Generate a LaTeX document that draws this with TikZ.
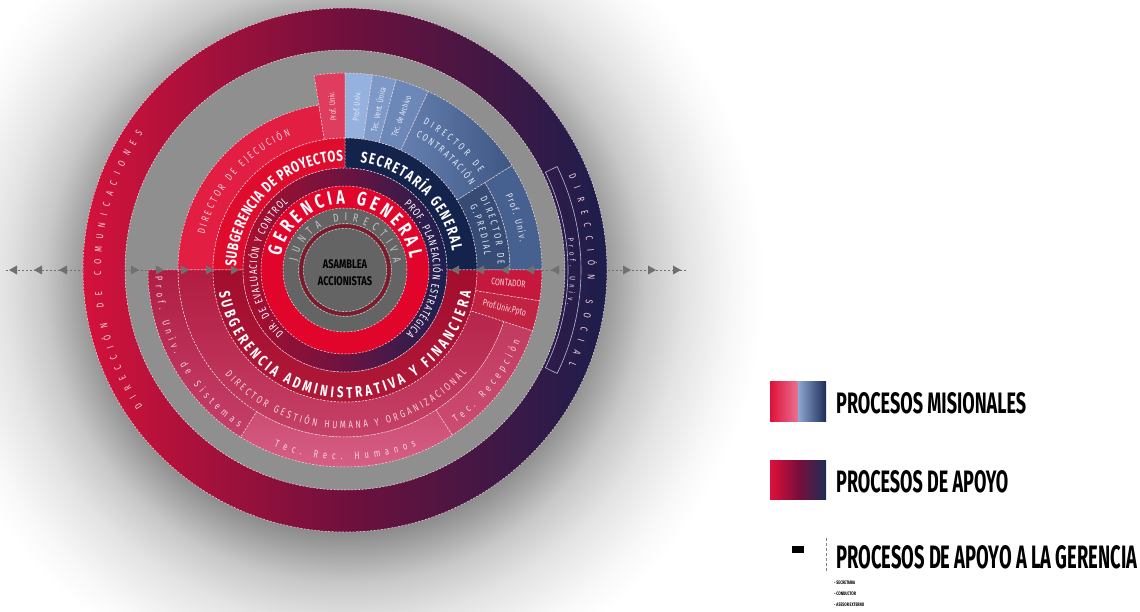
\documentclass[tikz,border=0pt]{standalone}
\usepackage{graphicx}
\usepackage{fontspec}
\setmainfont{Fira Sans}
\newfontfamily\cf[FakeStretch=0.74]{Fira Sans}
\newfontfamily\lgf[FakeStretch=0.7]{Fira Sans}
\usetikzlibrary{decorations.text}

\definecolor{glowA}{HTML}{8C8C8C}
\definecolor{glowB}{HTML}{A4A4A4}
\definecolor{glowC}{HTML}{C8C8C8}
\definecolor{glowD}{HTML}{E3E3E3}
\definecolor{glowE}{HTML}{F8F8F8}
\definecolor{ocL}{HTML}{D4123B}
\definecolor{ocM}{HTML}{70103C}
\definecolor{ocR}{HTML}{1C1E4C}
\definecolor{grayring}{HTML}{8F8F8F}
\definecolor{cgray}{HTML}{646464}
\definecolor{dkred}{HTML}{7E1A2A}
\definecolor{gerRed}{HTML}{E2052B}
\definecolor{r2L}{HTML}{AC0E2E}
\definecolor{r2M}{HTML}{6C1340}
\definecolor{r2R}{HTML}{1B2050}
\definecolor{subProy}{HTML}{E00C2E}
\definecolor{secGen}{HTML}{14234C}
\definecolor{subAdmT}{HTML}{A30E2E}
\definecolor{subAdmB}{HTML}{B01838}
\definecolor{dirEj}{HTML}{E21E42}
\definecolor{profRed}{HTML}{DE3D5E}
\definecolor{bPU}{HTML}{95B1DD}
\definecolor{bTV}{HTML}{7D99C8}
\definecolor{bTA}{HTML}{6C88B8}
\definecolor{bDCL}{HTML}{6580B0}
\definecolor{bDCR}{HTML}{3E5683}
\definecolor{bGP}{HTML}{364C75}
\definecolor{bPO}{HTML}{46618F}
\definecolor{conta}{HTML}{C5183C}
\definecolor{ppto}{HTML}{C22343}
\definecolor{dgT}{HTML}{B21C42}
\definecolor{dgB}{HTML}{C8466C}
\definecolor{trT}{HTML}{C23A60}
\definecolor{trB}{HTML}{CC4C72}
\definecolor{rhT}{HTML}{CC4C72}
\definecolor{rhB}{HTML}{D8628A}
\definecolor{psT}{HTML}{B01E44}
\definecolor{psB}{HTML}{C4406A}
\definecolor{juntaTxt}{HTML}{C4C4C4}
\definecolor{pinkTxt}{HTML}{F6D3DB}
\definecolor{blueTxt}{HTML}{E4EBF7}
\definecolor{dashc}{HTML}{F4DDE3}
\definecolor{triC}{HTML}{707070}
\definecolor{lgRed}{HTML}{E0103A}
\definecolor{lgPink}{HTML}{E8728F}
\definecolor{lgLB}{HTML}{8DA8D2}
\definecolor{lgNavy}{HTML}{1F2C55}
\definecolor{lgMar}{HTML}{7A0E3A}
\definecolor{boxc}{HTML}{B8BCD8}

% 25bp corresponds to the radius of the shaded circle
\pgfdeclareradialshading{glow}{\pgfpoint{0bp}{0bp}}{color(0bp)=(glowA); color(14.88bp)=(glowA); color(16.07bp)=(glowB); color(17.86bp)=(glowC); color(20.24bp)=(glowD); color(23.21bp)=(glowE); color(25bp)=(white); color(50bp)=(white)}

\newcommand\ringsec[4]{(#3:#1) arc[start angle=#3,end angle=#4,radius=#1] -- (#4:#2) arc[start angle=#4,end angle=#3,radius=#2] -- cycle}
\newcommand\arcT[5]{\path[decorate,decoration={text along path,text align={fit to path},text={|#1|#2}}] (#4:#3) arc[start angle=#4,end angle=#5,radius=#3];}
\newcommand\trL[1]{\fill[triC] (#1,-270) -- ++(8,4.5) -- ++(0,-9) -- cycle;}
\newcommand\trR[1]{\fill[triC] (#1,-270) -- ++(-8,4.5) -- ++(0,-9) -- cycle;}

\newcommand\fJ{\cf\fontsize{11.5}{12}\selectfont\color{juntaTxt}}
\newcommand\fG{\cf\bfseries\fontsize{19.5}{20}\selectfont\color{white}}
\newcommand\fM{\cf\fontsize{11}{11}\selectfont\color{white}}
\newcommand\fS{\cf\bfseries\fontsize{15.5}{16}\selectfont\color{white}}
\newcommand\fP{\cf\fontsize{10.5}{10.5}\selectfont\color{pinkTxt}}
\newcommand\fB{\cf\fontsize{10}{10}\selectfont\color{blueTxt}}
\newcommand\fO{\cf\fontsize{10}{10}\selectfont\color{pinkTxt}}
\newcommand\fQ{\cf\fontsize{8}{8}\selectfont\color{blueTxt}}
\newcommand\fR{\cf\fontsize{8.5}{9}\selectfont}

\tikzset{
  wd/.style={draw=dashc, dash pattern=on 2pt off 1.5pt, line width=0.5pt},
  dotl/.style={draw=triC, dash pattern=on 1.5pt off 2.5pt, line width=0.9pt},
  striptxt/.style={inner sep=0, font=\fR},
}

\begin{document}
\begin{tikzpicture}[x=1pt,y=1pt]
\useasboundingbox (0,0) rectangle (1140,-612);
\fill[white] (0,0) rectangle (1140,-612);
\begin{scope}
  \clip (0,0) rectangle (1140,-612);
  \shade[shading=glow] (345,-283) circle (420);
\end{scope}

\begin{scope}[shift={(345,-270)}]
  % outer ring
  \shade[left color=ocL, right color=ocR, middle color=ocM] (0,0) circle (262);
  \draw[wd] (0,0) circle (262);
  \fill[grayring] (0,0) circle (220);
  \draw[wd] (0,0) circle (220);
  % box in direccion social
  \draw[boxc, line width=0.6pt] \ringsec{223}{236}{26}{-26};

  % outer band sectors
  \path[fill=dirEj, wd] \ringsec{132}{167}{99}{180};
  \path[fill=profRed, wd] \ringsec{132}{197}{90}{99};
  \path[fill=bPU, wd] \ringsec{132}{197}{82}{90};
  \path[fill=bTV, wd] \ringsec{132}{197}{75}{82};
  \path[fill=bTA, wd] \ringsec{132}{197}{65}{75};
  \shade[left color=bDCL, right color=bDCR] \ringsec{132}{197}{32}{65};
  \path[wd] \ringsec{132}{197}{32}{65};
  \path[fill=bGP, wd] \ringsec{132}{165}{0}{32};
  \path[fill=bPO, wd] \ringsec{165}{197}{0}{32};
  \path[fill=conta, wd] \ringsec{132}{197}{-9}{0};
  \path[fill=ppto, wd] \ringsec{132}{197}{-18}{-9};
  \shade[top color=dgT, bottom color=dgB] \ringsec{132}{167}{-180}{-18};
  \path[wd] \ringsec{132}{167}{-180}{-18};
  \shade[top color=trT, bottom color=trB] \ringsec{167}{197}{-57}{-18};
  \path[wd] \ringsec{167}{197}{-57}{-18};
  \shade[top color=rhT, bottom color=rhB] \ringsec{167}{197}{-122}{-57};
  \path[wd] \ringsec{167}{197}{-122}{-57};
  \shade[top color=psT, bottom color=psB] \ringsec{167}{197}{-180}{-122};
  \path[wd] \ringsec{167}{197}{-180}{-122};

  % ring 102-132
  \path[fill=subProy, wd] \ringsec{102}{132}{90}{180};
  \path[fill=secGen, wd] \ringsec{102}{132}{0}{90};
  \shade[top color=subAdmT, bottom color=subAdmB] \ringsec{102}{132}{180}{360};
  \path[wd] \ringsec{102}{132}{180}{360};

  % ring 84-102
  \shade[left color=r2L, right color=r2R, middle color=r2M] (0,0) circle (102);
  \draw[wd] (0,0) circle (102);
  % red ring
  \fill[gerRed] (0,0) circle (84);
  \draw[wd] (0,0) circle (84);
  % center
  \fill[cgray] (0,0) circle (62);
  \draw[wd] (0,0) circle (62);
  \draw[dkred, line width=3.5pt] (0,0) circle (44);
  \draw[wd, line width=0.4pt] (0,0) circle (46.5);
  \draw[wd, line width=0.4pt] (0,0) circle (41.5);

  \node[font=\cf\bfseries\fontsize{12.5}{17}\selectfont, align=center, text=black] (asam) at (0,-3) {ASAMBLEA\\ACCIONISTAS};

  % arc texts
  \arcT{\fJ}{JUNTA DIRECTIVA}{49}{170}{8}
  \arcT{\fG}{GERENCIA GENERAL}{66}{168}{10}
  \arcT{\fM}{DIR. DE EVALUACIÓN Y CONTROL}{88}{226}{130}
  \arcT{\fM}{PROF. PLANEACIÓN ESTRATÉGICA}{88}{48}{-46}
  \arcT{\fS}{SUBGERENCIA DE PROYECTOS}{109}{178}{91}
  \arcT{\fS}{SECRETARÍA GENERAL}{109}{82}{10}
  \arcT{\fS}{SUBGERENCIA ADMINISTRATIVA Y FINANCIERA}{128}{190}{350}
  \arcT{\fP}{DIRECTOR DE EJECUCIÓN}{145}{166}{112}
  \arcT{\fB}{DIRECTOR DE}{166}{62}{36}
  \arcT{\fB}{CONTRATACIÓN}{151}{62}{34}
  \arcT{\fB}{DIRECTOR DE}{153}{28}{2}
  \arcT{\fB}{G.PREDIAL}{140}{27}{6}
  \arcT{\fB}{Prof. Univ.}{177}{25}{9}
  \arcT{\fP}{DIRECTOR GESTIÓN HUMANA Y ORGANIZACIONAL}{159}{221}{320}
  \arcT{\fP}{Tec. Rec. Humanos}{190}{248}{292}
  \arcT{\fP}{Tec. Recepción}{189}{306}{338}
  \arcT{\fP}{Prof. Univ. de Sistemas}{190}{182}{236}
  \arcT{\fO}{DIRECCIÓN DE COMUNICACIONES}{244}{214}{146}
  \arcT{\fO}{DIRECCIÓN SOCIAL}{243}{23}{-23}
  \arcT{\fQ}{Prof. Univ.}{225}{8}{-9}

  % radial strip texts
  \node[striptxt, rotate=94.5, text=pinkTxt] (pur) at (94.5:164) {Prof. Univ.};
  \node[striptxt, rotate=86, text=blueTxt] (pub) at (86:164) {Prof. Univ.};
  \node[striptxt, rotate=78.5, text=blueTxt] (tvu) at (78.5:164) {Tec. Vent. Única};
  \node[striptxt, rotate=70, text=blueTxt] (tda) at (70:164) {Tec. de Archivo};
  \node[striptxt, rotate=-4.5, text=pinkTxt, font=\cf\fontsize{9.5}{10}\selectfont] (cont) at (-4.5:164) {CONTADOR};
  \node[striptxt, rotate=-13.5, text=pinkTxt, font=\cf\fontsize{9.5}{10}\selectfont] (ppto) at (-13.5:164) {Prof.Univ.Ppto};
\end{scope}

% horizontal dotted line with arrowheads
\coordinate (la) at (6,-270); \coordinate (lb) at (83,-270);
\coordinate (lc) at (125,-270); \coordinate (ld) at (148,-270);
\coordinate (rc) at (542,-270); \coordinate (rd) at (563,-270);
\coordinate (ra) at (608,-270); \coordinate (rb) at (688,-270);
\draw[dotl] (la) -- (lb);
\draw[dotl] (lc) -- (ld);
\draw[dotl] (rc) -- (rd);
\draw[dotl] (ra) -- (rb);
\trL{9}\trL{34}\trL{59}
\trR{139}\trR{164}\trR{189}\trR{214}\trR{239}
\trL{451}\trL{476}\trL{501}\trL{526}\trL{551}
\trR{631}\trR{656}\trR{681}

% legend
\shade[left color=lgRed, right color=lgPink] (770,-381) rectangle (798,-421);
\shade[left color=lgLB, right color=lgNavy] (798,-381) rectangle (826,-421);
\shade[left color=lgRed, right color=lgNavy, middle color=lgMar] (770,-460) rectangle (826,-499);
\fill[black] (792,-546) rectangle (804,-553);
\draw[gray, dash pattern=on 3pt off 2pt, line width=0.6pt] (826,-538) -- (826,-573);
\node[anchor=base west, inner sep=0] (t1) at (836,-413) {\resizebox{190pt}{21pt}{\lgf\bfseries PROCESOS MISIONALES}};
\node[anchor=base west, inner sep=0] (t2) at (836,-492) {\resizebox{172pt}{22pt}{\lgf\bfseries PROCESOS DE APOYO}};
\node[anchor=base west, inner sep=0] (t3) at (836,-568) {\resizebox{301pt}{23pt}{\lgf\bfseries PROCESOS DE APOYO A LA GERENCIA}};
\node[anchor=base west, inner sep=0, font=\lgf\bfseries\fontsize{5}{5}\selectfont] (s1) at (834,-584) {- SECRETARIA};
\node[anchor=base west, inner sep=0, font=\lgf\bfseries\fontsize{5}{5}\selectfont] (s2) at (834,-595) {- CONDUCTOR};
\node[anchor=base west, inner sep=0, font=\lgf\bfseries\fontsize{5}{5}\selectfont] (s3) at (834,-606) {- ASESOR EXTERNO};
\end{tikzpicture}
\end{document}
